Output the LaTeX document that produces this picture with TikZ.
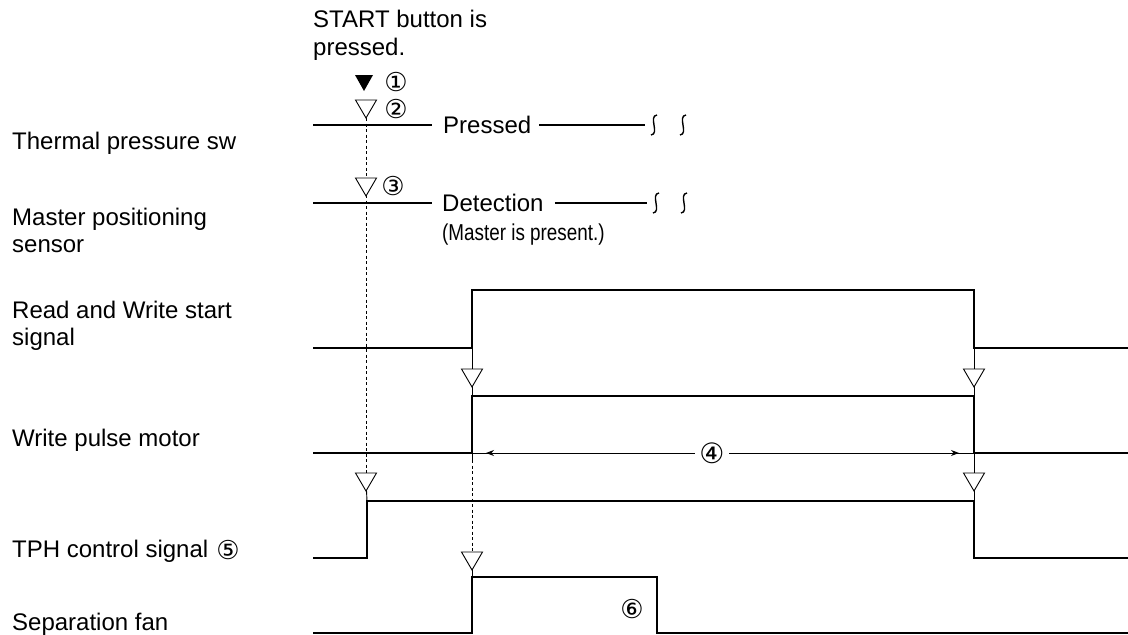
\documentclass[tikz,border=0pt]{standalone}
\usepackage{fontspec}
\setmainfont{Liberation Sans}
\newfontfamily\circfont{DejaVu Sans}
\newfontfamily\narrowfont[FakeStretch=0.82]{Liberation Sans}
\usetikzlibrary{arrows.meta}
\begin{document}
\begin{tikzpicture}[x=1pt,y=-1pt,
  sig/.style={line width=2.4pt, line join=miter, line cap=butt},
  thinln/.style={line width=0.9pt},
  dotconn/.style={line width=0.9pt, dash pattern=on 3pt off 2.5pt},
  lbl/.style={anchor=base west, inner sep=0pt, font=\fontsize{24}{28}\selectfont},
  onln/.style={anchor=west, inner sep=0pt, font=\fontsize{24}{28}\selectfont},
  circ/.style={inner sep=0pt, font=\circfont\fontsize{26}{26}\selectfont},
  squig/.style={line width=1.4pt},
  pics/opentri/.style={code={\draw[line width=0.9pt, fill=white, line join=miter] (-10.5,0) -- (10.5,0) -- (0,18) -- cycle;}},
  pics/solidtri/.style={code={\fill[black] (-9,0) -- (9,0) -- (0,16) -- cycle;}}
]
\useasboundingbox (0,0) rectangle (1128,635);

% ---- left labels ----
\node[lbl] (lTh) at (12,149) {Thermal pressure sw};
\node[lbl] (lMa) at (12,225) {Master positioning};
\node[lbl] (lMb) at (12,252) {sensor};
\node[lbl] (lRa) at (12,318) {Read and Write start};
\node[lbl] (lRb) at (12,345) {signal};
\node[lbl] (lWp) at (12,446) {Write pulse motor};
\node[lbl] (lTp) at (12,557) {TPH control signal};
\node[circ] (n5) at (228,550) {⑤};
\node[lbl] (lSf) at (12,630) {Separation fan};

% ---- top text ----
\node[lbl] (st1) at (313,27) {START button is};
\node[lbl] (st2) at (313,55) {pressed.};

% ---- thermal pressure sw ----
\node[onln] (pressed) at (443,125) {Pressed};
\coordinate (thS) at (313,125);
\coordinate (thE) at (645,125);
\draw[sig, line width=2pt] (thS) -- ([xshift=-11pt]pressed.west);
\draw[sig, line width=2pt] ([xshift=8pt]pressed.east) -- (thE);
\foreach \cx in {654,683}{
  \draw[squig] (\cx+3,115) .. controls (\cx-6,116) and (\cx+6,134) .. (\cx-3,135);
}

% ---- master positioning sensor ----
\node[onln] (detect) at (442,203) {Detection};
\node[anchor=base west, inner sep=0pt, font=\narrowfont\fontsize{23}{26}\selectfont] (present) at (442,240) {(Master is present.)};
\coordinate (maS) at (313,203);
\coordinate (maE) at (647,203);
\draw[sig, line width=2pt] (maS) -- ([xshift=-10pt]detect.west);
\draw[sig, line width=2pt] ([xshift=11pt]detect.east) -- (maE);
\foreach \cx in {656,684}{
  \draw[squig] (\cx+3,193) .. controls (\cx-6,194) and (\cx+6,212) .. (\cx-3,213);
}

% ---- signal coordinates ----
\coordinate (rw0) at (313,348);
\coordinate (rw1) at (472,348);
\coordinate (rw2) at (472,290);
\coordinate (rw3) at (974,290);
\coordinate (rw4) at (974,348);
\coordinate (rw5) at (1128,348);

\coordinate (wp0) at (313,453);
\coordinate (wp1) at (472,453);
\coordinate (wp2) at (472,396);
\coordinate (wp3) at (974,396);
\coordinate (wp4) at (974,453);
\coordinate (wp5) at (1128,453);

\coordinate (tp0) at (313,558);
\coordinate (tp1) at (367,558);
\coordinate (tp2) at (367,501);
\coordinate (tp3) at (974,501);
\coordinate (tp4) at (974,558);
\coordinate (tp5) at (1128,558);

\coordinate (sf0) at (313,633);
\coordinate (sf1) at (472,633);
\coordinate (sf2) at (472,577);
\coordinate (sf3) at (657,577);
\coordinate (sf4) at (657,633);
\coordinate (sf5) at (1128,633);

% ---- connectors (behind) ----
\draw[dotconn] (366,118) -- (366,473);
\draw[thinln] (366,480) -- (tp2);
\draw[thinln] (rw1) -- (wp2);
\draw[thinln] (rw4) -- (wp3);
\draw[thinln] (wp4) -- (tp3);
\draw[thinln] (wp1) -- (472,460);
\draw[dotconn] (472,460) -- (472,556);
\draw[thinln] (472,560) -- (sf2);

% ---- signals ----
\draw[sig] (rw0) -- (rw1) -- (rw2) -- (rw3) -- (rw4) -- (rw5);
\draw[sig] (wp0) -- (wp1) -- (wp2) -- (wp3) -- (wp4) -- (wp5);
\draw[sig] (tp0) -- (tp1) -- (tp2) -- (tp3) -- (tp4) -- (tp5);
\draw[sig] (sf0) -- (sf1) -- (sf2) -- (sf3) -- (sf4) -- (sf5);

% ---- duration arrow 4 ----
\draw[thinln] (wp1) -- (wp4);
\draw[thinln, {Stealth[length=8pt,width=6pt]}-{Stealth[length=8pt,width=6pt]}, shorten <=14pt, shorten >=15pt] (wp1) -- (wp4);
\node[circ, fill=white, inner sep=4pt, font=\circfont\fontsize{28}{28}\selectfont] (n4) at (712,453) {④};

% ---- triangles ----
\pic at (364,75) {solidtri};
\node[circ] (n1) at (396,82) {①};
\pic at (366,100) {opentri};
\node[circ] (n2) at (396,109) {②};
\pic at (366,178) {opentri};
\node[circ] (n3) at (393,186) {③};
\pic at (472,369) {opentri};
\pic at (974,369) {opentri};
\pic at (366,473) {opentri};
\pic at (974,473) {opentri};
\pic at (472,552) {opentri};

\node[circ] (n6) at (632,609) {⑥};
\end{tikzpicture}
\end{document}
